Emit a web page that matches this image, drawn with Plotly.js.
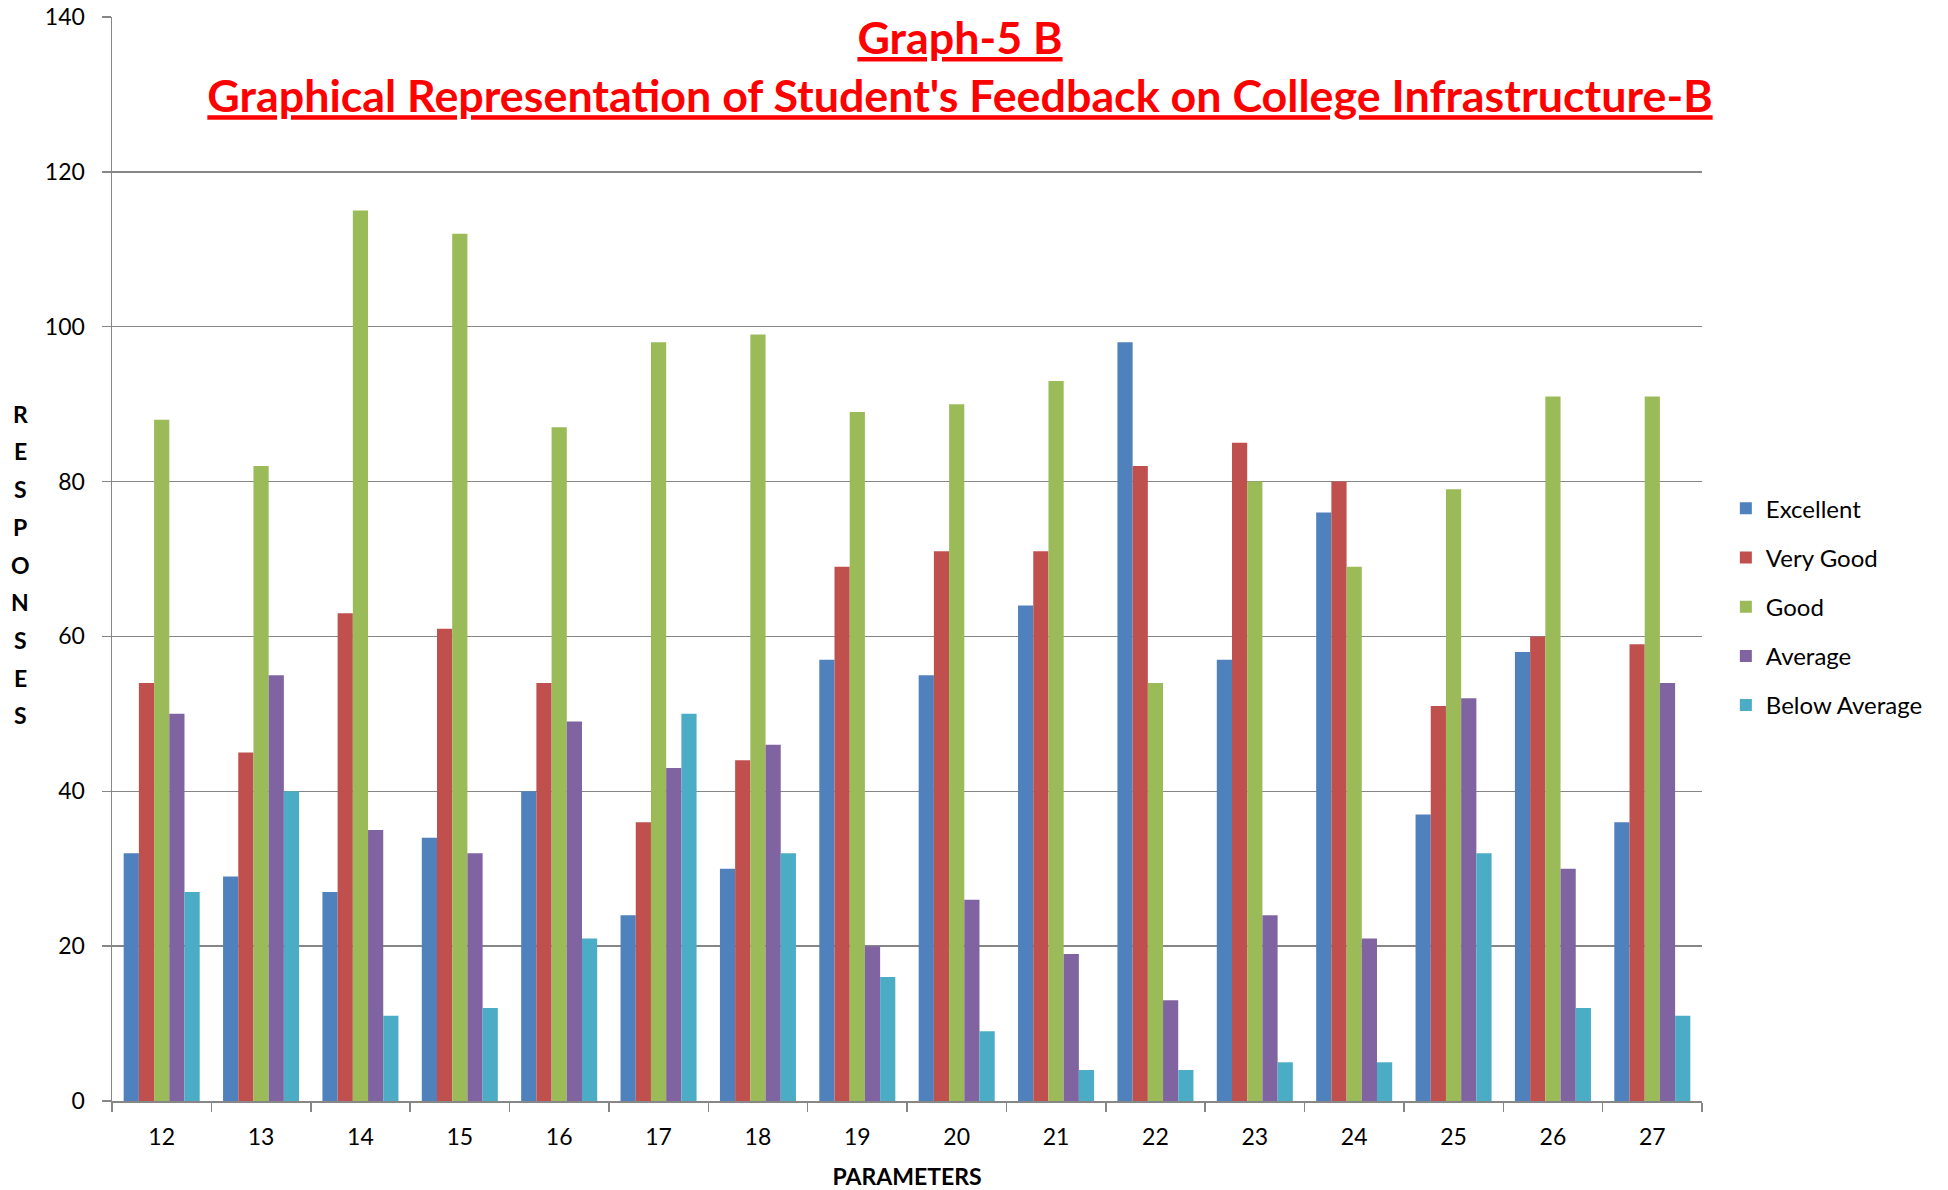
<!DOCTYPE html>
<html>
<head>
<meta charset="utf-8">
<script src="https://cdn.plot.ly/plotly-3.0.1.min.js"></script>
<style>html,body{margin:0;padding:0;background:#fff;}#chart{width:1948px;height:1190px;}</style>
</head>
<body>
<div id="chart"></div>
<script>
const categories = ['12','13','14','15','16','17','18','19','20','21','22','23','24','25','26','27'];
const excellent    = [32, 29, 27, 34, 40, 24, 30, 57, 55, 64, 98, 57, 76, 37, 58, 36];
const veryGood     = [54, 45, 63, 61, 54, 36, 44, 69, 71, 71, 82, 85, 80, 51, 60, 59];
const good         = [88, 82, 115, 112, 87, 98, 99, 89, 90, 93, 54, 80, 69, 79, 91, 91];
const average      = [50, 55, 35, 32, 49, 43, 46, 20, 26, 19, 13, 24, 21, 52, 30, 54];
const belowAverage = [27, 40, 11, 12, 21, 50, 32, 16, 9, 4, 4, 5, 5, 32, 12, 11];
const seriesNames  = ['Excellent', 'Very Good', 'Good', 'Average', 'Below Average'];
const seriesColors = ['#4F81BD', '#C0504D', '#9BBB59', '#8064A2', '#4BACC6'];
const titleLine1 = 'Graph-5 B';
const titleLine2 = "Graphical Representation of Student's Feedback on College Infrastructure-B";
const yTitle = 'RESPONSES';
const xTitle = 'PARAMETERS';

const FONT = 'Lato, "Open Sans", sans-serif';
const seriesValues = [excellent, veryGood, good, average, belowAverage];
const traces = seriesValues.map((vals, i) => ({
  type: 'bar',
  name: seriesNames[i],
  x: categories,
  y: vals,
  legendgroup: 'g' + i,
  marker: {color: seriesColors[i], line: {width: 0}},
  hoverinfo: 'x+y+name'
}));

const W = 1948, H = 1190;
const mL = 112, mR = 246, mT = 17, mB = 89;
const plotW = W - mL - mR, plotH = H - mT - mB;
const letterStep = 37.7, letterMid = 564.5, letterX = 20;
const letters = yTitle.split('');
const annotations = letters.map((ch, k) => {
  const yc = letterMid + (k - (letters.length - 1) / 2) * letterStep;
  return {
    text: '<b>' + ch + '</b>',
    xref: 'paper', yref: 'paper',
    x: (letterX - mL) / plotW,
    y: (H - mB - yc) / plotH,
    xanchor: 'center', yanchor: 'middle',
    showarrow: false,
    font: {family: FONT, size: 23, color: '#000'}
  };
});

const ul = s => '<span style="text-decoration:underline"><b>' + s + '</b></span>';

const layout = {
  width: W, height: H,
  margin: {l: mL, r: mR, t: mT, b: mB, pad: 0},
  paper_bgcolor: '#fff', plot_bgcolor: '#fff',
  font: {family: FONT, color: '#000'},
  title: {
    text: ul(titleLine1) + '<br>' + ul(titleLine2),
    font: {family: FONT, size: 44.8, color: '#FF0000'},
    xref: 'container', yref: 'container',
    x: 960 / W, xanchor: 'center',
    y: 1 - 54 / H, yanchor: 'top'
  },
  barmode: 'group',
  bargap: 0.235,
  bargroupgap: 0,
  showlegend: true,
  legend: {
    x: 1.015, xanchor: 'left',
    y: 0.456, yanchor: 'middle',
    font: {family: FONT, size: 24, color: '#000'},
    traceorder: 'grouped',
    tracegroupgap: 15,
    bgcolor: 'rgba(0,0,0,0)'
  },
  xaxis: {
    type: 'category',
    showline: true, linecolor: '#868686', linewidth: 1.5,
    ticks: 'outside', tickson: 'boundaries', ticklen: 9, tickcolor: '#868686', tickwidth: 1.5,
    showgrid: false, zeroline: false,
    tickfont: {family: FONT, size: 23, color: '#000'},
    ticklabelstandoff: 15,
    title: {text: '<b>' + xTitle + '</b>', font: {family: FONT, size: 23, color: '#000'}, standoff: 20}
  },
  yaxis: {
    range: [0, 140], dtick: 20, tick0: 0,
    showline: true, linecolor: '#868686', linewidth: 1.5,
    ticks: 'outside', ticklen: 9, tickcolor: '#868686', tickwidth: 1.5,
    showgrid: true, gridcolor: '#868686', gridwidth: 1.5,
    zeroline: false,
    tickfont: {family: FONT, size: 23, color: '#000'},
    ticklabelstandoff: 12
  },
  annotations: annotations
};

Plotly.newPlot('chart', traces, layout, {displayModeBar: false, staticPlot: true});
</script>
</body>
</html>
